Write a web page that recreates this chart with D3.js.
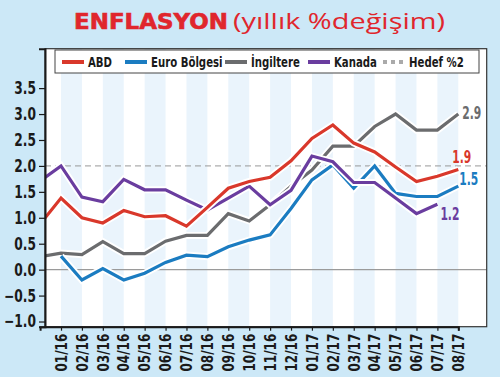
<!DOCTYPE html>
<html>
<head>
<meta charset="utf-8">
<script src="https://cdn.jsdelivr.net/npm/d3@7"></script>
<style>
  body { margin: 0; background: #cce8f7; }
  svg { display: block; }
  .cond { font-family: "DejaVu Sans", sans-serif; font-weight: 700; }
</style>
</head>
<body>
<div id="chart"></div>
<script>
// data
const months = ["12/15", "01/16", "02/16", "03/16", "04/16", "05/16", "06/16", "07/16", "08/16", "09/16", "10/16",
  "11/16", "12/16", "01/17", "02/17", "03/17", "04/17", "05/17", "06/17", "07/17", "08/17"];
const tickMonths = months.slice(1);
const yTicks = [-1.0, -0.5, 0.0, 0.5, 1.0, 1.5, 2.0, 2.5, 3.0, 3.5];

const abd = [0.88, 1.38, 1.0, 0.9, 1.14, 1.02, 1.04, 0.84, 1.2, 1.57, 1.7, 1.78, 2.1, 2.53, 2.79, 2.44, 2.27, 1.98, 1.7, 1.8, 1.93];
const euro = [null, 0.26, -0.2, 0.02, -0.2, -0.07, 0.14, 0.28, 0.25, 0.44, 0.57, 0.67, 1.18, 1.73, 2.02, 1.57, 2.0, 1.47, 1.41, 1.41, 1.61];
const ingiltere = [0.25, 0.32, 0.29, 0.54, 0.31, 0.31, 0.55, 0.66, 0.66, 1.08, 0.94, 1.25, 1.61, 1.92, 2.38, 2.38, 2.76, 3.0, 2.69, 2.69, 3.0];
const kanada = [1.71, 2.0, 1.4, 1.31, 1.74, 1.54, 1.54, 1.34, 1.15, 1.38, 1.61, 1.25, 1.53, 2.19, 2.08, 1.68, 1.68, 1.38, 1.08, 1.26, null];
const hedef = 2.0;

const seriesNames = ["ABD", "Euro Bölgesi", "İngiltere", "Kanada"];
const seriesColors = ["#d9382b", "#1b7cc1", "#6b6c6e", "#6a3d9f"];
const endLabels = ["1.9", "1.5", "2.9", "1.2"];

const W = 500, H = 377;
const plotLeft = 45, plotRight = 486.7, plotTop = 48.7, plotBottom = 326.7;

// squeeze text horizontally, the fonts here have no condensed face
function condense(sel, f) {
  sel.each(function() {
    const w = this.getComputedTextLength();
    d3.select(this).attr("textLength", w * f).attr("lengthAdjust", "spacingAndGlyphs");
  });
}

const svg = d3.select("#chart").append("svg")
  .attr("width", W)
  .attr("height", H);

svg.append("rect").attr("width", W).attr("height", H).attr("fill", "#cce8f7");

// title
svg.append("text")
  .attr("x", 74).attr("y", 29)
  .attr("fill", "#e0262d")
  .attr("textLength", 154).attr("lengthAdjust", "spacingAndGlyphs")
  .style("font-family", "'DejaVu Sans', sans-serif")
  .style("font-weight", "900")
  .style("font-size", "21px")
  .style("stroke", "#e0262d").style("stroke-width", 0.6)
  .text("ENFLASYON");
svg.append("text")
  .attr("x", 233).attr("y", 29)
  .attr("fill", "#e0262d")
  .attr("textLength", 212).attr("lengthAdjust", "spacingAndGlyphs")
  .style("font-family", "'Open Sans', sans-serif")
  .style("font-weight", "500")
  .style("font-size", "21px")
  .text("(yıllık %değişim)");

const x = d3.scalePoint()
  .domain(months)
  .range([40.1, 458.3]);

const y = d3.scaleLinear()
  .domain([-1.1, 4.26])
  .range([plotBottom, plotTop]);

// plot background
svg.append("rect")
  .attr("x", plotLeft).attr("y", plotTop)
  .attr("width", plotRight - plotLeft).attr("height", plotBottom - plotTop)
  .attr("fill", "#fff");

// stripes
svg.selectAll("rect.stripe")
  .data(tickMonths.filter((d, i) => i % 2 === 0))
  .enter()
  .append("rect")
  .attr("class", "stripe")
  .attr("x", d => x(d))
  .attr("y", plotTop)
  .attr("width", x.step())
  .attr("height", plotBottom - plotTop)
  .attr("fill", "#eaf4fc");

// zero line
svg.append("line")
  .attr("x1", plotLeft).attr("x2", plotRight)
  .attr("y1", y(0)).attr("y2", y(0))
  .attr("stroke", "#9a9a9a").attr("stroke-width", 1.2);

// target line
svg.append("line")
  .attr("x1", plotLeft).attr("x2", plotRight)
  .attr("y1", y(hedef)).attr("y2", y(hedef))
  .attr("stroke", "#999").attr("stroke-width", 1)
  .attr("stroke-dasharray", "6,4");

svg.append("clipPath").attr("id", "clip")
  .append("rect")
  .attr("x", plotLeft).attr("y", plotTop)
  .attr("width", plotRight - plotLeft).attr("height", plotBottom - plotTop);

const line = d3.line()
  .defined(d => d.v !== null)
  .x(d => x(d.m))
  .y(d => y(d.v));

const allSeries = [abd, euro, ingiltere, kanada];
const drawOrder = [2, 1, 3, 0];
const g = svg.append("g").attr("clip-path", "url(#clip)");
drawOrder.forEach(i => {
  const pts = allSeries[i].map((v, j) => ({ m: months[j], v: v }));
  g.append("path")
    .attr("d", line(pts))
    .attr("fill", "none")
    .attr("stroke", "#fff")
    .attr("stroke-width", 7)
    .attr("stroke-linejoin", "miter");
  g.append("path")
    .attr("d", line(pts))
    .attr("fill", "none")
    .attr("stroke", seriesColors[i])
    .attr("stroke-width", 3.2)
    .attr("stroke-linejoin", "miter");
});

// end labels
const labelOffsets = [[-6, -7], [1, -1], [4, 5], [3, 16]];
allSeries.forEach((s, i) => {
  let j = s.length - 1;
  while (s[j] === null) j--;
  const t = svg.append("text")
    .attr("class", "cond")
    .attr("x", x(months[j]) + labelOffsets[i][0])
    .attr("y", y(s[j]) + labelOffsets[i][1])
    .attr("fill", seriesColors[i])
    .style("font-size", "18.5px")
    .text(endLabels[i]);
  condense(t, 0.58);
});

// frame
svg.append("rect")
  .attr("x", plotLeft).attr("y", plotTop)
  .attr("width", plotRight - plotLeft).attr("height", plotBottom - plotTop)
  .attr("fill", "none")
  .attr("stroke", "#333")
  .attr("stroke-width", 1.2);

// Y axis
const yAxis = svg.append("g")
  .attr("transform", "translate(" + plotLeft + ",0)")
  .call(d3.axisLeft(y).tickValues(yTicks).tickFormat(d3.format(".1f")).tickSize(6).tickPadding(3));
yAxis.select(".domain").attr("stroke", "#1a1a1a").attr("stroke-width", 2);
yAxis.selectAll(".tick line").attr("stroke", "#1a1a1a").attr("stroke-width", 1.2);
yAxis.selectAll("text")
  .attr("class", "cond")
  .attr("fill", "#1a1a1a")
  .style("font-size", "17px");
condense(yAxis.selectAll("text"), 0.72);

// X axis
const xAxis = svg.append("g")
  .attr("transform", "translate(0," + plotBottom + ")")
  .call(d3.axisBottom(x).tickValues(tickMonths).tickSize(4).tickPadding(3));
xAxis.select(".domain").attr("stroke", "#1a1a1a").attr("stroke-width", 2);
xAxis.selectAll(".tick line").attr("stroke", "#1a1a1a").attr("stroke-width", 1.2);
xAxis.selectAll("text")
  .attr("class", "cond")
  .attr("fill", "#1a1a1a")
  .style("font-size", "15px")
  .style("text-anchor", "end")
  .attr("transform", "rotate(-90)")
  .attr("x", -7)
  .attr("y", 0)
  .attr("dy", "0.35em");
condense(xAxis.selectAll("text"), 0.8);

// legend
const legend = svg.append("g");
legend.append("rect")
  .attr("x", 55).attr("y", 50)
  .attr("width", 424).attr("height", 23)
  .attr("fill", "#fff")
  .attr("stroke", "#444")
  .attr("stroke-width", 1);

const legendNames = seriesNames.concat(["Hedef %2"]);
const legendColors = seriesColors.concat(["#aaa"]);
const legendX = [62, 125, 225, 308, 383];
legendNames.forEach((name, i) => {
  const lx = legendX[i];
  legend.append("line")
    .attr("x1", lx).attr("x2", lx + 22)
    .attr("y1", 62).attr("y2", 62)
    .attr("stroke", legendColors[i])
    .attr("stroke-width", 4)
    .attr("stroke-dasharray", i === 4 ? "4,4" : null);
  const t = legend.append("text")
    .attr("class", "cond")
    .attr("x", lx + 26)
    .attr("y", 67)
    .attr("fill", "#1a1a1a")
    .style("font-size", "14.5px")
    .text(name);
  condense(t, 0.7);
});
</script>
</body>
</html>
